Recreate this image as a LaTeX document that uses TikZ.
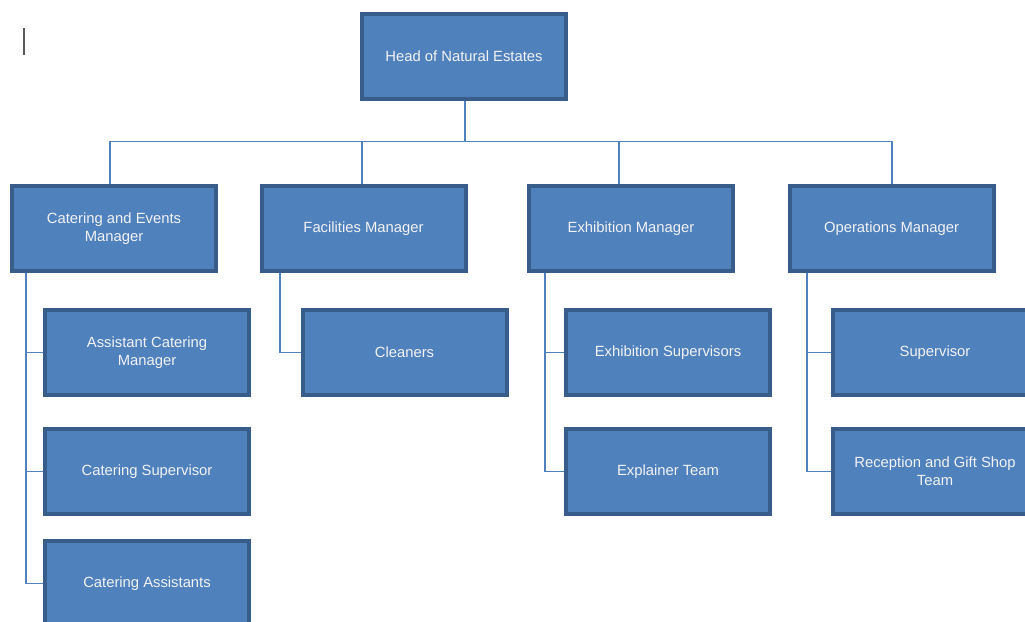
\documentclass[tikz,border=0pt]{standalone}
\usepackage{fontspec}
\setmainfont{Liberation Sans}
\definecolor{boxfill}{HTML}{4F81BD}
\definecolor{boxline}{HTML}{385D8A}
\definecolor{connline}{HTML}{4F81BD}
\definecolor{boxtext}{HTML}{F2F2F2}
\begin{document}
\begin{tikzpicture}[x=1pt,y=-1pt,
  orgbox/.style={draw=boxline, fill=boxfill, line width=4pt, rectangle,
    minimum width=204pt, minimum height=85pt, inner sep=2pt, align=center,
    text=boxtext, font=\fontsize{14.8pt}{18pt}\selectfont},
  conn/.style={draw=connline, line width=1.5pt}]
\useasboundingbox (0,0) rectangle (1025,621);
\clip (0,0) rectangle (1025,621);
% cursor mark
\draw[line width=2pt, draw=black!65] (24,28) -- (24,55);
% nodes
\node[orgbox] (head) at (464,56.5) {Head of Natural Estates};
\node[orgbox] (cat) at (114,228.5) {Catering and Events\\Manager};
\node[orgbox] (fac) at (363.5,228.5) {Facilities Manager};
\node[orgbox] (exh) at (631,228.5) {Exhibition Manager};
\node[orgbox] (ops) at (891.5,228.5) {Operations Manager};
\node[orgbox] (acm) at (147,352.5) {Assistant Catering\\Manager};
\node[orgbox] (csup) at (147,471.5) {Catering Supervisor};
\node[orgbox] (cass) at (147,583.5) {Catering Assistants};
\node[orgbox] (cln) at (404.5,352.5) {Cleaners};
\node[orgbox] (esup) at (668,352.5) {Exhibition Supervisors};
\node[orgbox] (expl) at (668,471.5) {Explainer Team};
\node[orgbox] (osup) at (935,352.5) {Supervisor};
\node[orgbox] (rec) at (935,471.5) {Reception and Gift Shop\\Team};
% helper coordinates
\coordinate (bus) at (465,141.5);
\coordinate (xcat) at (110,0);
\coordinate (xfac) at (362,0);
\coordinate (xexh) at (619,0);
\coordinate (xops) at (892,0);
\coordinate (vcat) at (26,0);
\coordinate (vfac) at (280,0);
\coordinate (vexh) at (545,0);
\coordinate (vops) at (807,0);
% level 1 connectors
\draw[conn] (head.south -| bus) -- (bus);
\draw[conn] (cat.north -| xcat) |- (bus);
\draw[conn] (fac.north -| xfac) |- (bus);
\draw[conn] (exh.north -| xexh) |- (bus);
\draw[conn] (ops.north -| xops) |- (bus);
% level 2 connectors
\draw[conn] (cat.south -| vcat) |- (acm.west);
\draw[conn] (cat.south -| vcat) |- (csup.west);
\draw[conn] (cat.south -| vcat) |- (cass.west);
\draw[conn] (fac.south -| vfac) |- (cln.west);
\draw[conn] (exh.south -| vexh) |- (esup.west);
\draw[conn] (exh.south -| vexh) |- (expl.west);
\draw[conn] (ops.south -| vops) |- (osup.west);
\draw[conn] (ops.south -| vops) |- (rec.west);
\end{tikzpicture}
\end{document}
